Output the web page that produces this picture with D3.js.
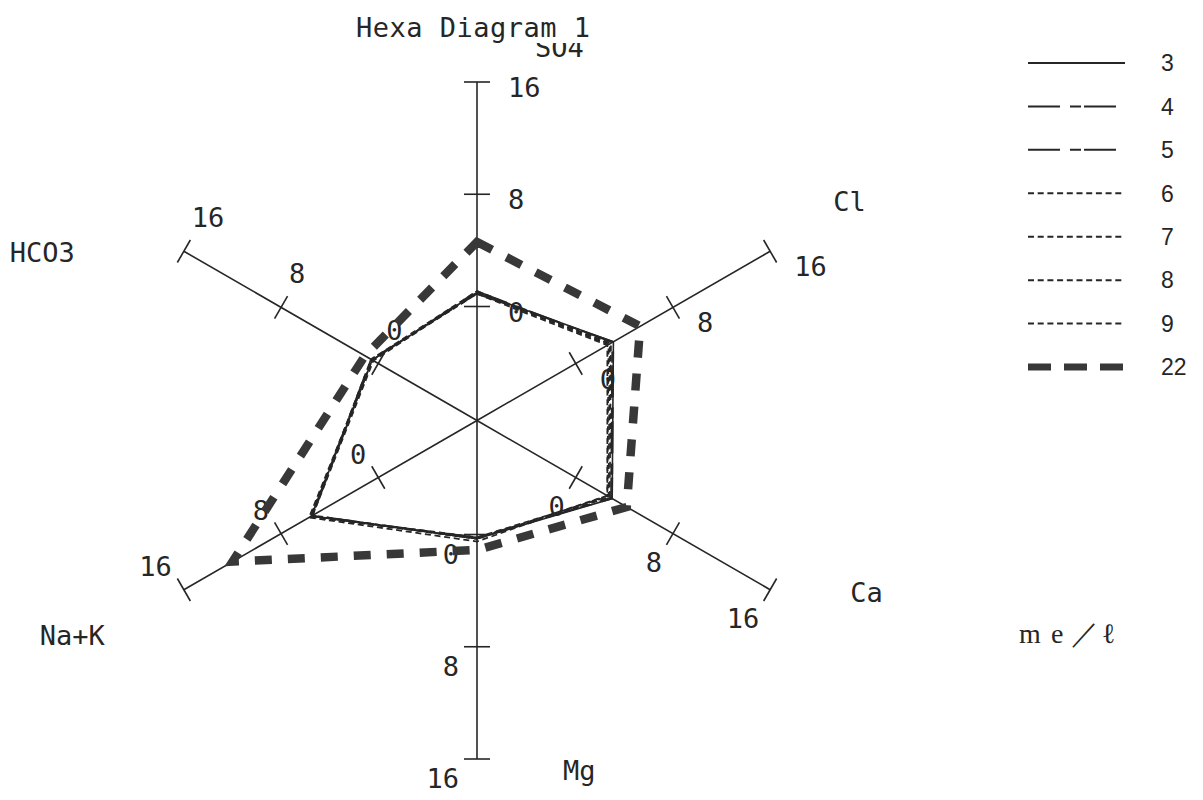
<!DOCTYPE html>
<html>
<head>
<meta charset="utf-8">
<script src="https://cdn.jsdelivr.net/npm/d3@7"></script>
<style>
  html, body { margin: 0; padding: 0; background: #ffffff; }
  svg { display: block; }
  .plot-text { font-family: "DejaVu Sans Mono", monospace; font-size: 27px; fill: #262626; }
  .legend-text { font-family: "Liberation Sans", Arial, sans-serif; font-size: 23px; fill: #262626; }
  .unit-text { font-family: "Liberation Serif", "DejaVu Serif", serif; font-size: 28px; fill: #262626; }
</style>
</head>
<body>
<svg id="chart" width="1203" height="800"></svg>
<script>
// Hexa diagram axes (me/l), clockwise from the top
const axisNames = ["SO4", "Cl", "Ca", "Mg", "Na+K", "HCO3"];
const tickValues = [0, 8, 16];
const tickLabels = ["0", "8", "16"];

// Samples and their concentrations, in axis order
const seriesNames = ["3", "4", "5", "6", "7", "8", "9", "22"];
const s3  = [1.0, 3.1, 3.0, 0.3, 5.5, 0.5];
const s4  = [1.1, 3.0, 2.9, 0.3, 5.4, 0.5];
const s5  = [0.9, 3.1, 3.0, 0.2, 5.5, 0.6];
const s6  = [1.0, 2.7, 2.6, 0.3, 5.6, 0.5];
const s7  = [1.1, 2.8, 2.7, 0.2, 5.5, 0.6];
const s8  = [0.9, 2.6, 2.6, 0.5, 5.7, 0.5];
const s9  = [1.0, 2.9, 2.8, 0.3, 5.4, 0.4];
const s22 = [4.6, 5.3, 4.2, 1.1, 12.0, 1.1];
const seriesValues = [s3, s4, s5, s6, s7, s8, s9, s22];

// ---- layout ----
const cx = 477, cy = 420.5;
const angleDeg = [-90, -30, 30, 90, 150, 210];         // screen angle of each axis
const r = d3.scaleLinear().domain([0, 16]).range([114, 338.5]);
const tickHalf = 13;

// tick label placement per axis: text-anchor, dx, dy (baseline) from the tick
const tickLabelPos = [
  { anchor: "start", dx: 31,  dy: 15 },
  { anchor: "start", dx: 24,  dy: 25 },
  { anchor: "end",   dx: -11, dy: 38 },
  { anchor: "end",   dx: -18, dy: 29 },
  { anchor: "end",   dx: -12, dy: -14 },
  { anchor: "start", dx: 8,   dy: -24 }
];
// axis name placement relative to the end of each axis
const axisLabelPos = [
  { dx: 58,   dy: -25 },
  { dx: 63,   dy: -40 },
  { dx: 80,   dy: 12 },
  { dx: 86,   dy: 21 },
  { dx: -144, dy: 55 },
  { dx: -174, dy: 11 }
];

const seriesStyle = {
  "3":  { width: 1.6, dash: null,          legendDash: null },
  "4":  { width: 1.6, dash: "32 10 11 3",  legendDash: "32 10 11 3" },
  "5":  { width: 1.6, dash: "32 10 11 3",  legendDash: "32 10 11 3" },
  "6":  { width: 1.7, dash: "6 3.7",       legendDash: "6 3.7" },
  "7":  { width: 1.7, dash: "6 3.7",       legendDash: "6 3.7" },
  "8":  { width: 1.7, dash: "6 3.7",       legendDash: "6 3.7" },
  "9":  { width: 1.7, dash: "6 3.7",       legendDash: "6 3.7" },
  "22": { width: 8.5, dash: "17 16",       legendDash: "23 13" }
};

const ink = "#262626";
const svg = d3.select("#chart");

function pt(i, v) {
  const a = angleDeg[i] * Math.PI / 180;
  const rr = r(v);
  return [cx + rr * Math.cos(a), cy + rr * Math.sin(a)];
}

// ---- axes ----
const axesG = svg.append("g");
axisNames.forEach((name, i) => {
  const a = angleDeg[i] * Math.PI / 180;
  const ux = Math.cos(a), uy = Math.sin(a);
  const nx = -uy, ny = ux;
  const end = pt(i, 16);
  axesG.append("line")
    .attr("x1", cx).attr("y1", cy).attr("x2", end[0]).attr("y2", end[1])
    .attr("stroke", ink).attr("stroke-width", 1.6);
  tickValues.forEach((t, k) => {
    const p = pt(i, t);
    axesG.append("line")
      .attr("x1", p[0] - nx * tickHalf).attr("y1", p[1] - ny * tickHalf)
      .attr("x2", p[0] + nx * tickHalf).attr("y2", p[1] + ny * tickHalf)
      .attr("stroke", ink).attr("stroke-width", 1.6);
    const lp = tickLabelPos[i];
    axesG.append("text").attr("class", "plot-text")
      .attr("x", p[0] + lp.dx).attr("y", p[1] + lp.dy)
      .attr("text-anchor", lp.anchor)
      .text(tickLabels[k]);
  });
  const ap = axisLabelPos[i];
  axesG.append("text").attr("class", "plot-text")
    .attr("x", end[0] + ap.dx).attr("y", end[1] + ap.dy)
    .text(name);
});

// ---- sample polygons ----
const line = d3.line().curve(d3.curveLinearClosed);
const polyG = svg.append("g");
seriesNames.forEach((name, s) => {
  const pts = seriesValues[s].map((v, i) => pt(i, v));
  const st = seriesStyle[name];
  polyG.append("path")
    .attr("d", line(pts))
    .attr("fill", "none")
    .attr("stroke", name === "22" ? "#383838" : ink)
    .attr("stroke-width", st.width)
    .attr("stroke-dasharray", st.dash)
    .attr("stroke-linejoin", "miter");
});

// ---- title (its white backing hides the top of the SO4 name) ----
svg.append("rect").attr("x", 352).attr("y", 8).attr("width", 248).attr("height", 35).attr("fill", "#ffffff");
svg.append("text").attr("class", "plot-text")
  .attr("x", 356).attr("y", 37)
  .attr("letter-spacing", 0.5)
  .text("Hexa Diagram 1");

// ---- legend ----
const legendG = svg.append("g");
const legendY = d3.scalePoint().domain(seriesNames).range([63, 367]);
seriesNames.forEach(name => {
  const st = seriesStyle[name];
  const y = legendY(name);
  legendG.append("line")
    .attr("x1", 1028).attr("x2", 1125).attr("y1", y).attr("y2", y)
    .attr("stroke", name === "22" ? "#383838" : ink)
    .attr("stroke-width", name === "22" ? 7 : 2)
    .attr("stroke-dasharray", st.legendDash);
  legendG.append("text").attr("class", "legend-text")
    .attr("x", 1161).attr("y", y).attr("dy", "0.36em")
    .text(name);
});

// ---- unit ----
const unitG = svg.append("text").attr("class", "unit-text").attr("y", 643);
[["m", 1019], ["e", 1051], ["／", 1071], ["ℓ", 1102]].forEach(([ch, x]) => {
  unitG.append("tspan").attr("x", x).text(ch);
});
</script>
</body>
</html>
